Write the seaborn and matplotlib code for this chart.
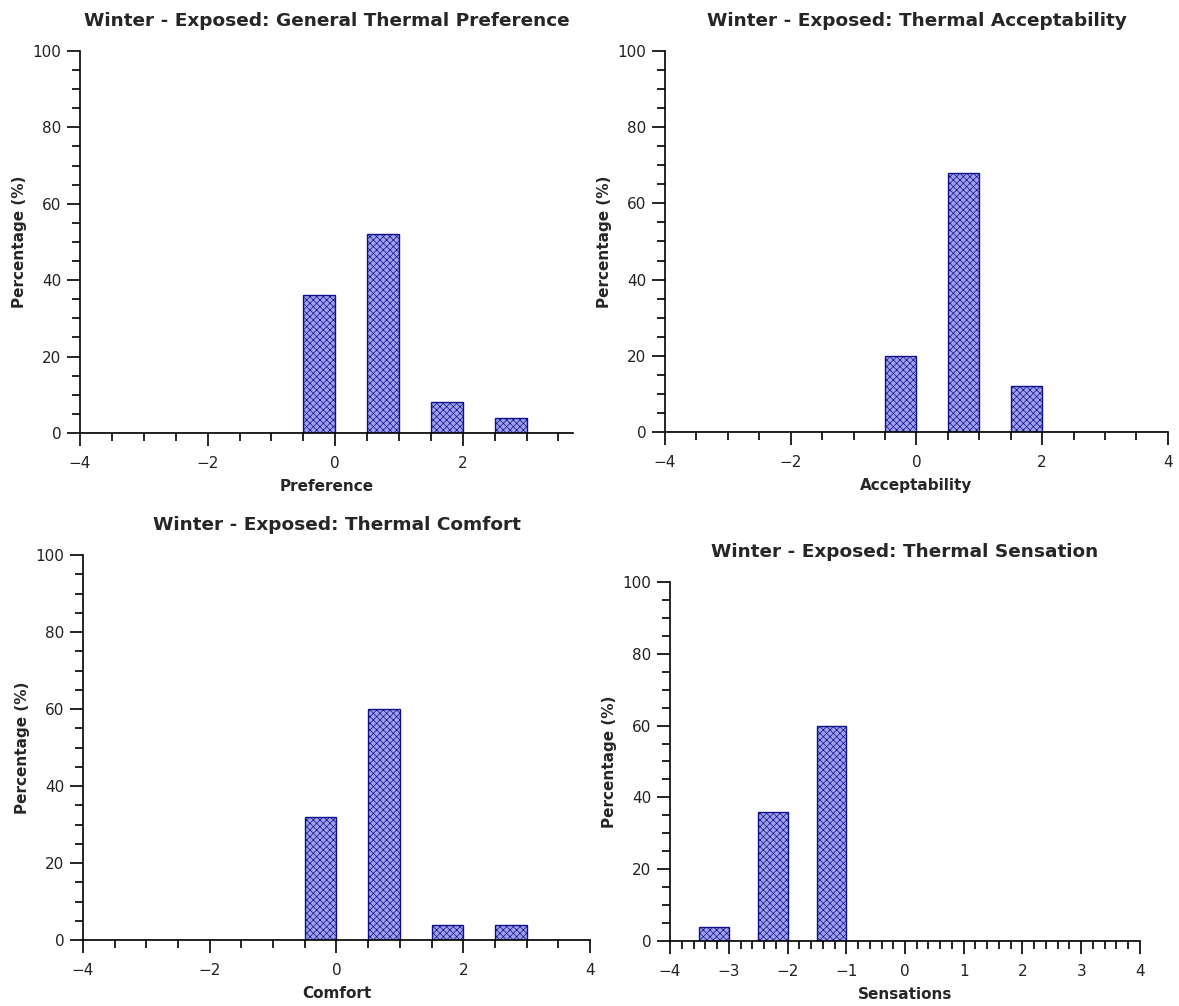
import numpy as np
import pandas as pd
import matplotlib
matplotlib.use("Agg")
import matplotlib.pyplot as plt
from matplotlib.ticker import MultipleLocator
import seaborn as sns

sns.set_style("white")
plt.rcParams["font.family"] = ["DejaVu Sans"]
plt.rcParams["hatch.linewidth"] = 0.5

# Histogram bins (left edges of occupied bins, bin width 0.5) and percentages
pref_left = [-0.5, 0.5, 1.5, 2.5]
pref_pct = [36, 52, 8, 4]

accept_left = [-0.5, 0.5, 1.5]
accept_pct = [20, 68, 12]

comfort_left = [-0.5, 0.5, 1.5, 2.5]
comfort_pct = [32, 60, 4, 4]

sens_left = [-3.5, -2.5, -1.5]
sens_pct = [4, 36, 60]

BIN_W = 0.5
FACE = "#a0a0ec"
EDGE = "#10108a"

fig = plt.figure(figsize=(11.79, 10.06), dpi=100)

panels = [
    dict(rect=[0.0679, 0.5696, 0.4182, 0.3797], left=pref_left, pct=pref_pct,
         xlim=(-4, 3.73), major=2, minor=0.5, xlabel="Preference",
         title="Winter - Exposed: General Thermal Preference"),
    dict(rect=[0.5640, 0.5706, 0.4266, 0.3787], left=accept_left, pct=accept_pct,
         xlim=(-4, 4), major=2, minor=0.5, xlabel="Acceptability",
         title="Winter - Exposed: Thermal Acceptability"),
    dict(rect=[0.0704, 0.0656, 0.4300, 0.3827], left=comfort_left, pct=comfort_pct,
         xlim=(-4, 4), major=2, minor=0.5, xlabel="Comfort",
         title="Winter - Exposed: Thermal Comfort"),
    dict(rect=[0.5683, 0.0646, 0.3986, 0.3569], left=sens_left, pct=sens_pct,
         xlim=(-4, 4), major=1, minor=0.2, xlabel="Sensations",
         title="Winter - Exposed: Thermal Sensation"),
]

for p in panels:
    ax = fig.add_axes(p["rect"])
    df = pd.DataFrame({"value": np.array(p["left"]) + BIN_W / 2,
                       "pct": np.array(p["pct"], dtype=float)})
    sns.histplot(data=df, x="value", weights="pct", binwidth=BIN_W,
                 binrange=(-4, 4), ax=ax, color=FACE, alpha=1.0,
                 edgecolor=EDGE, linewidth=1.0, hatch="xxxxx")
    ax.set_xlim(*p["xlim"])
    ax.set_ylim(0, 100)
    ax.xaxis.set_major_locator(MultipleLocator(p["major"]))
    ax.xaxis.set_minor_locator(MultipleLocator(p["minor"]))
    ax.yaxis.set_major_locator(MultipleLocator(20))
    ax.yaxis.set_minor_locator(MultipleLocator(5))
    for s in ("top", "right"):
        ax.spines[s].set_visible(False)
    for s in ("left", "bottom"):
        ax.spines[s].set_color("black")
        ax.spines[s].set_linewidth(1.2)
    ax.tick_params(which="major", direction="out", length=9.5, width=1.2,
                   color="black", labelsize=11, labelcolor="#222222",
                   bottom=True, left=True)
    ax.tick_params(axis="x", which="major", pad=7)
    ax.tick_params(axis="y", which="major", pad=4)
    ax.tick_params(which="minor", direction="out", length=5.5, width=1.2,
                   color="black", bottom=True, left=True)
    ax.set_xlabel(p["xlabel"], fontsize=11, fontweight="bold", labelpad=6)
    ax.set_ylabel("Percentage (%)", fontsize=11, fontweight="bold", labelpad=4)
    ax.set_title(p["title"], fontsize=13.3, fontweight="bold", pad=18)

fig.savefig("out.png", dpi=100, facecolor="white")
